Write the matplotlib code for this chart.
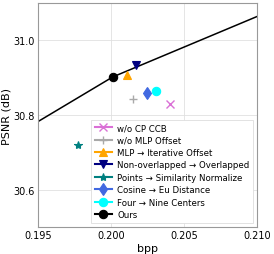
import matplotlib
matplotlib.use("Agg")
import matplotlib.pyplot as plt

# reference curve (Ours)
curve_bpp = [0.195, 0.2001, 0.210]
curve_psnr = [30.783, 30.902, 31.064]

labels = [
    "w/o CP CCB",
    "w/o MLP Offset",
    "MLP \u2192 Iterative Offset",
    "Non-overlapped \u2192 Overlapped",
    "Points \u2192 Similarity Normalize",
    "Cosine \u2192 Eu Distance",
    "Four \u2192 Nine Centers",
    "Ours",
]
bpp = [0.2040, 0.2015, 0.20105, 0.20167, 0.19770, 0.20245, 0.20306, 0.2001]
psnr = [30.829, 30.842, 30.906, 30.934, 30.719, 30.858, 30.864, 30.902]
markers = ["x", "+", "^", "v", "*", "d", "o", "o"]
colors = ["orchid", "darkgray", "orange", "navy", "teal", "royalblue", "cyan", "black"]

fig = plt.figure(figsize=(2.74, 2.55), dpi=100)
ax = fig.add_axes([0.140, 0.106, 0.798, 0.878])

ax.plot(curve_bpp, curve_psnr, color="black", linewidth=1.1, zorder=2)

for lab, x, y, m, c in zip(labels, bpp, psnr, markers, colors):
    ax.plot([x], [y], marker=m, color=c, markersize=6, linestyle="-",
            markeredgewidth=1.0 if m in "x+" else 0.8, label=lab, zorder=3)

ax.set_xlim(0.195, 0.210)
ax.set_ylim(30.5, 31.1)
ax.set_xticks([0.195, 0.200, 0.205, 0.210])
ax.set_xticklabels(["0.195", "0.200", "0.205", "0.210"])
ax.set_yticks([30.6, 30.8, 31.0])
ax.tick_params(labelsize=7, length=0, pad=2.5)
ax.grid(True, color="#e0e0e0", linewidth=0.6)
for s in ax.spines.values():
    s.set_color("#999999")
    s.set_linewidth(0.8)

ax.set_xlabel("bpp", fontsize=8, labelpad=1.5)
ax.set_ylabel("PSNR (dB)", fontsize=8, labelpad=1.5)

leg = ax.legend(loc="lower right", fontsize=6.2, handlelength=2.0,
                borderpad=0.4, labelspacing=0.4, handletextpad=0.6,
                fancybox=False, framealpha=1.0)
leg.get_frame().set_edgecolor("#dddddd")
leg.get_frame().set_linewidth(0.6)

fig.savefig("out.png", dpi=100)
